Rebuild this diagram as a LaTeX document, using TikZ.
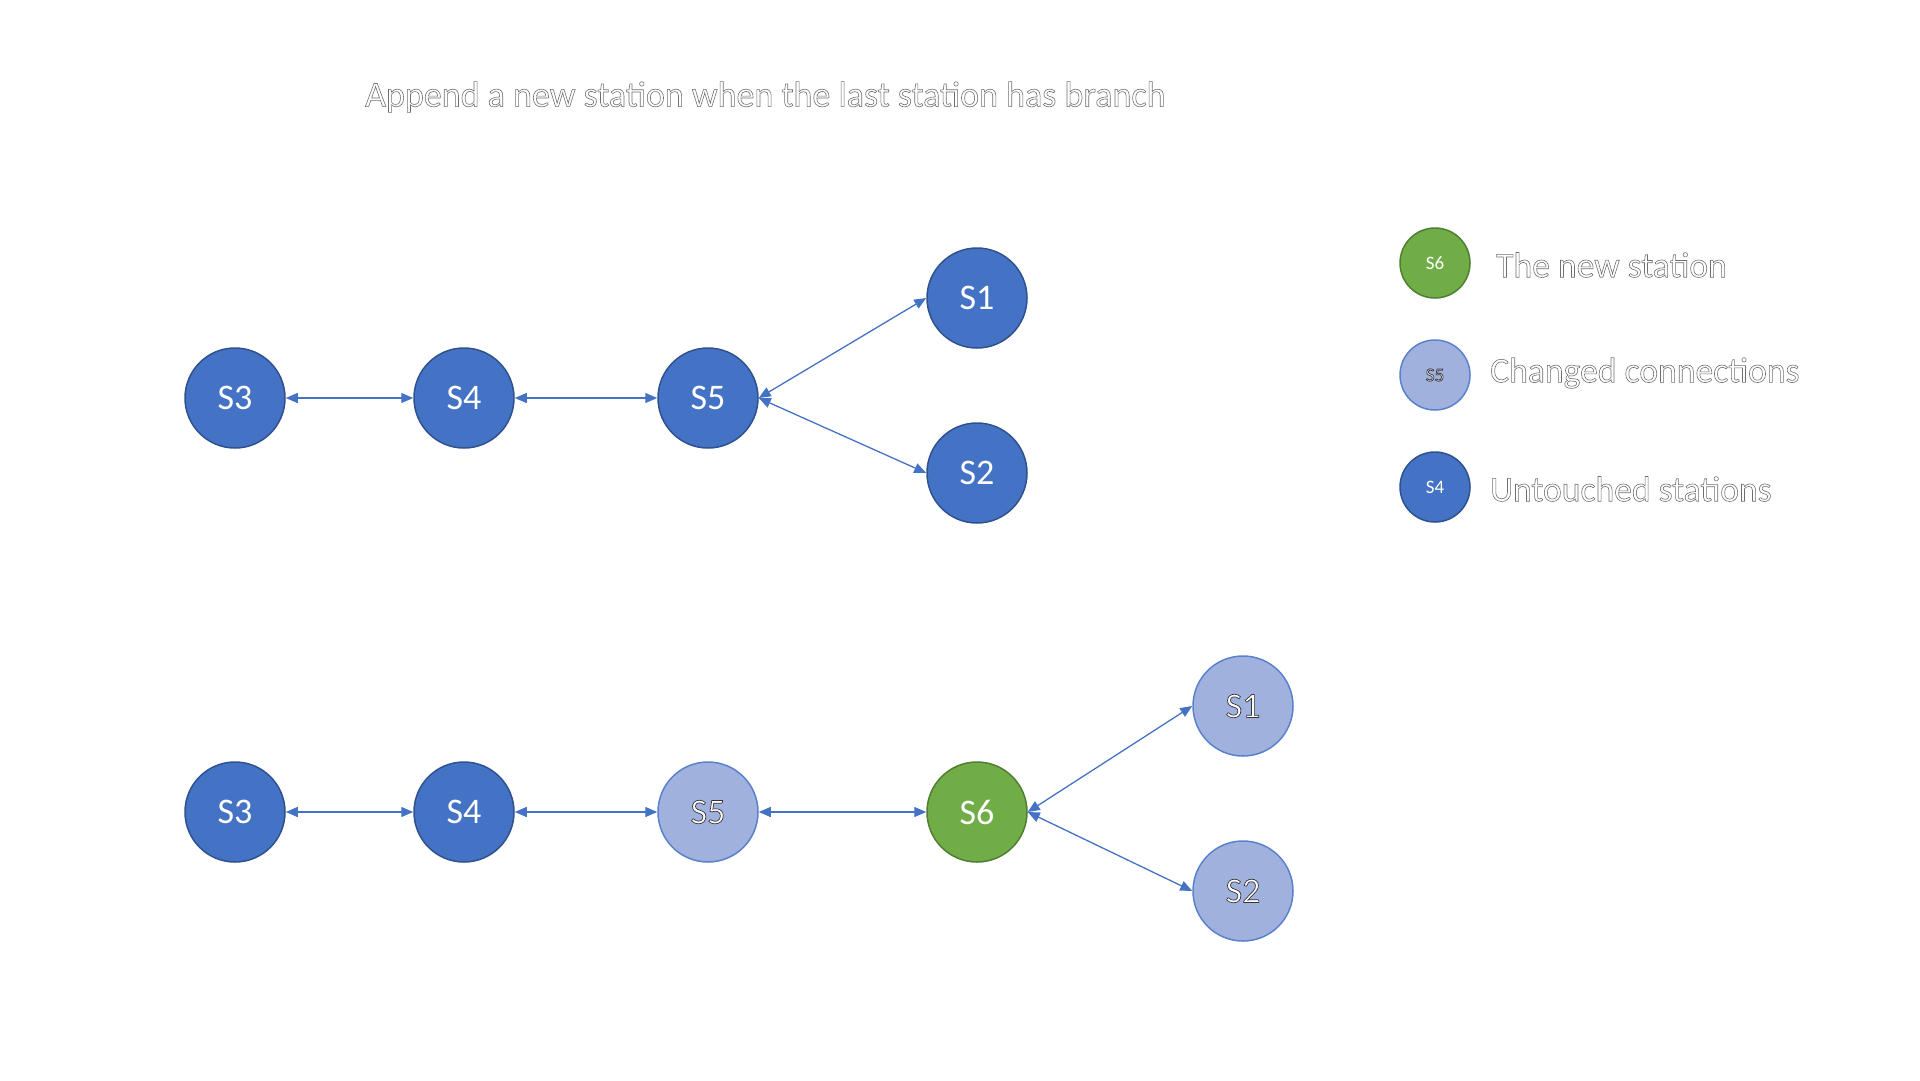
\documentclass[tikz,border=0pt]{standalone}
\usepackage{fontspec}
\setmainfont{Carlito}
\usetikzlibrary{arrows.meta}
\definecolor{nodeblue}{HTML}{4472C4}
\definecolor{nodeborder}{HTML}{2F528F}
\definecolor{newgreen}{HTML}{70AD47}
\definecolor{greenborder}{HTML}{507E32}
\definecolor{lightfill}{HTML}{A1B1DE}
\definecolor{lightborder}{HTML}{5A82CC}
\definecolor{textgray}{HTML}{6F6F6F}
\newcommand\outlinetext[1]{\special{pdf:literal direct 1 Tr 0.6 w}#1\special{pdf:literal direct 0 Tr}}
\newcommand\whiteoutline[1]{\special{pdf:literal direct 2 Tr 0.7 w 0.2 0.2 0.2 RG}#1\special{pdf:literal direct 0 Tr}}
\tikzset{
  station/.style={circle, minimum size=100pt, inner sep=0pt, line width=1.5pt,
    font=\fontsize{36}{40}\selectfont, text=white},
  untouched/.style={station, fill=nodeblue, draw=nodeborder},
  newst/.style={station, fill=newgreen, draw=greenborder},
  changed/.style={station, fill=lightfill, draw=lightborder},
  small/.style={minimum size=70pt, font=\fontsize{19}{22}\selectfont},
  link/.style={draw=nodeblue, line width=1.3pt,
    {Triangle[length=12pt,width=10pt]}-{Triangle[length=12pt,width=10pt]}},
  legendtext/.style={anchor=west, inner sep=0pt, text=textgray,
    font=\fontsize{35.6}{40}\selectfont},
}
\begin{document}
\begin{tikzpicture}[x=1pt, y=-1pt]
\useasboundingbox (0,0) rectangle (1920,1080);
% title
\node[legendtext, font=\fontsize{36}{40}\selectfont] (title) at (365,97)
  {\outlinetext{Append a new station when the last station has branch}};
% top row
\node[untouched] (t3) at (235,398) {S3};
\node[untouched] (t4) at (464,398) {S4};
\node[untouched] (t5) at (708,398) {S5};
\node[untouched] (t1) at (977,298) {S1};
\node[untouched] (t2) at (977,473) {S2};
\draw[link] (t3) -- (t4);
\draw[link] (t4) -- (t5);
\draw[link] (t5.east) -- (t1.west);
\draw[link] (t5.east) -- (t2.west);
% bottom row
\node[untouched] (b3) at (235,812) {S3};
\node[untouched] (b4) at (464,812) {S4};
\node[changed] (b5) at (708,812) {\whiteoutline{S5}};
\node[newst] (b6) at (977,812) {S6};
\node[changed] (b1) at (1243,706) {\whiteoutline{S1}};
\node[changed] (b2) at (1243,891) {\whiteoutline{S2}};
\draw[link] (b3) -- (b4);
\draw[link] (b4) -- (b5);
\draw[link] (b5) -- (b6);
\draw[link] (b6.east) -- (b1.west);
\draw[link] (b6.east) -- (b2.west);
% legend
\node[newst, small] (l6) at (1435,263) {S6};
\node[changed, small] (l5) at (1435,375) {\whiteoutline{S5}};
\node[untouched, small] (l4) at (1435,487) {S4};
\node[legendtext] (lt1) at (1496,265) {\outlinetext{The new station}};
\node[legendtext] (lt2) at (1490,373) {\outlinetext{Changed connections}};
\node[legendtext] (lt3) at (1490,489) {\outlinetext{Untouched stations}};
\end{tikzpicture}
\end{document}
